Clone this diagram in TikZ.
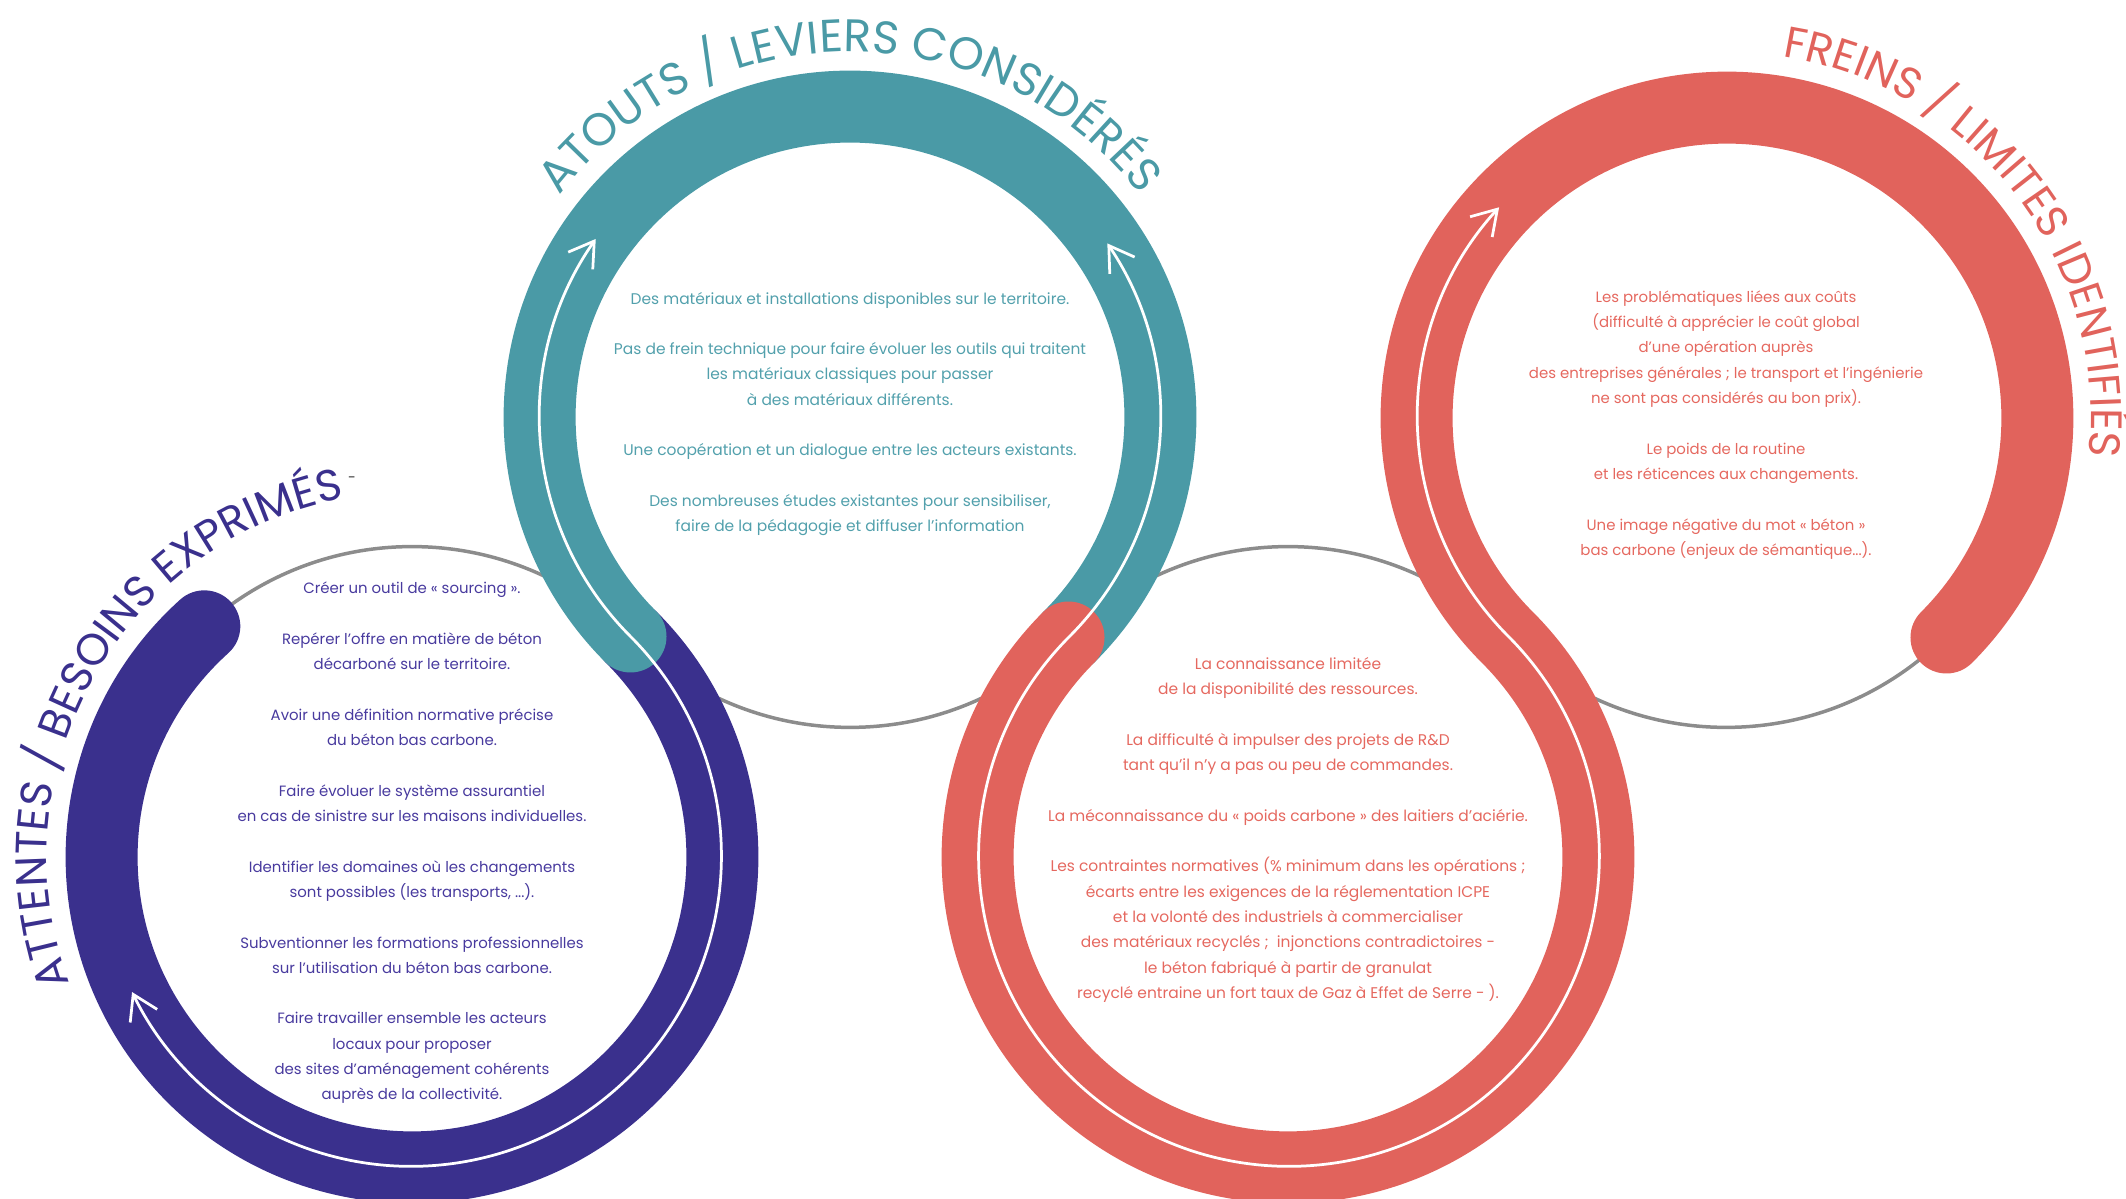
\documentclass[tikz,border=0pt]{standalone}
\usepackage{fontspec}
\setmainfont{Poppins}
\usetikzlibrary{arrows.meta,decorations.text,calc}
\definecolor{cpurple}{RGB}{58,48,141}
\definecolor{cteal}{RGB}{74,154,166}
\definecolor{ccoral}{RGB}{225,99,92}
\definecolor{cgray}{RGB}{140,140,140}
\definecolor{tpurple}{RGB}{72,58,158}
\definecolor{tteal}{RGB}{82,160,172}
\definecolor{tcoral}{RGB}{229,104,95}
\newcommand\ttlfont{\fontsize{26}{26}\selectfont}
\newcommand\ttlfontsm{\fontsize{25}{25}\selectfont}
\newcommand\bodyfont{\fontsize{8.5}{14.4}\selectfont}
\newcommand\bodyfontwide{\fontsize{8.8}{14.4}\selectfont}
\begin{document}
\begin{tikzpicture}[x=0.02cm,y=0.02cm,
  band/.style={line width=1.44cm, line cap=round},
  ring/.style={draw=cgray, line width=0.07cm},
  flow/.style={draw=white, line width=0.055cm,
    {Straight Barb[length=0.48cm,width=0.6cm]}-{Straight Barb[length=0.48cm,width=0.6cm]}},
  body/.style={align=center, font=\bodyfont, inner sep=0pt},
  bodywide/.style={align=center, font=\bodyfontwide, inner sep=0pt},
  title/.style={decorate, decoration={text along path, text align=center, text={#1}}}
]
\useasboundingbox (0,0) rectangle (2126,1199);
\def\R{310.4}
\def\T{365}
\coordinate (c1) at (412,342);
\coordinate (c2) at (850,782);
\coordinate (c3) at (1288,342);
\coordinate (c4) at (1726,782);

% thin gray circles
\foreach \c in {c1,c2,c3,c4} \draw[ring] (\c) circle[radius=\R];

% bands
\draw[band, cpurple] ($(c1)+(132:\R)$) arc[start angle=132, end angle=405, radius=\R];
\draw[band, cteal] ($(c2)+(225:\R)$) arc[start angle=225, end angle=-45, radius=\R];
\draw[band, ccoral] ($(c3)+(135:\R)$) arc[start angle=135, end angle=405, radius=\R]
   arc[start angle=225, end angle=-45, radius=\R];

% white flow lines
\draw[flow] ($(c2)+(145:\R)$) arc[start angle=145, end angle=225, radius=\R]
   arc[start angle=405, end angle=206, radius=\R];
\draw[flow] ($(c2)+(34:\R)$) arc[start angle=34, end angle=-45, radius=\R]
   arc[start angle=135, end angle=405, radius=\R]
   arc[start angle=225, end angle=137.5, radius=\R];

% curved titles
\path[title={|\color{cpurple}\ttlfontsm|ATTENTES / BESOINS EXPRIMÉS}]
  ($(c1)+(240.5:\T)$) arc[start angle=240.5, end angle=60.5, radius=\T];
\path[title={|\color{cteal}\ttlfont|ATOUTS / LEVIERS CONSIDÉRÉS}]
  ($(c2)+(170:\T)$) arc[start angle=170, end angle=10, radius=\T];
\path[title={|\color{ccoral}\ttlfontsm|FREINS / LIMITES IDENTIFIÉS}]
  ($(c4)+(127.5:\T)$) arc[start angle=127.5, end angle=-52.5, radius=\T];
\node[font=\fontsize{8}{8}\selectfont, text=black!80] (dash) at (352,719) {-};

% texts
\node[body, text=tpurple] (t1) at (412,356) {Créer un outil de « sourcing ».\\[14.4pt]
Repérer l’offre en matière de béton\\ décarboné sur le territoire.\\[14.4pt]
Avoir une définition normative précise\\ du béton bas carbone.\\[14.4pt]
Faire évoluer le système assurantiel\\ en cas de sinistre sur les maisons individuelles.\\[14.4pt]
Identifier les domaines où les changements\\ sont possibles (les transports, ...).\\[14.4pt]
Subventionner les formations professionnelles\\ sur l'utilisation du béton bas carbone.\\[14.4pt]
Faire travailler ensemble les acteurs\\ locaux pour proposer\\ des sites d'aménagement cohérents\\ auprès de la collectivité.};

\node[bodywide, text=tteal] (t2) at (850,785) {Des matériaux et installations disponibles sur le territoire.\\[14.4pt]
Pas de frein technique pour faire évoluer les outils qui traitent\\ les matériaux classiques pour passer\\ à des matériaux différents.\\[14.4pt]
Une coopération et un dialogue entre les acteurs existants.\\[14.4pt]
Des nombreuses études existantes pour sensibiliser,\\ faire de la pédagogie et diffuser l’information};

\node[bodywide, text=tcoral] (t3) at (1288,369) {La connaissance limitée\\ de la disponibilité des ressources.\\[14.4pt]
La difficulté à impulser des projets de R\&D\\ tant qu’il n’y a pas ou peu de commandes.\\[14.4pt]
La méconnaissance du « poids carbone » des laitiers d’aciérie.\\[14.4pt]
Les contraintes normatives (\% minimum dans les opérations ;\\ écarts entre les exigences de la réglementation ICPE\\ et la volonté des industriels à commercialiser\\ des matériaux recyclés ;\ \ injonctions contradictoires -\\ le béton fabriqué à partir de granulat\\ recyclé entraine un fort taux de Gaz à Effet de Serre - ).};

\node[body, text=tcoral] (t4) at (1726,774) {Les problématiques liées aux coûts\\ (difficulté à apprécier le coût global\\ d'une opération auprès\\ des entreprises générales ; le transport et l’ingénierie\\ ne sont pas considérés au bon prix).\\[14.4pt]
Le poids de la routine\\ et les réticences aux changements.\\[14.4pt]
Une image négative du mot « béton »\\ bas carbone (enjeux de sémantique...).};
\end{tikzpicture}
\end{document}
